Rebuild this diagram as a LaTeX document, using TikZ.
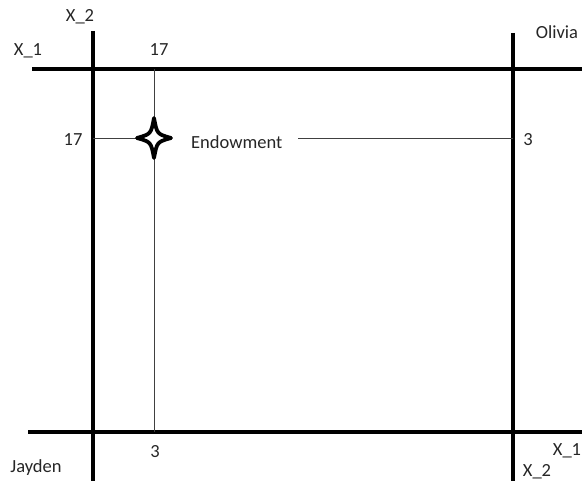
\documentclass[tikz,border=0pt]{standalone}
\usepackage{fontspec}
\setmainfont{Carlito}
\usetikzlibrary{positioning}

\begin{document}
\begin{tikzpicture}[
    x=1pt, y=-1pt,
    axis/.style={line width=3.6pt},
    guide/.style={line width=0.8pt, black!75},
    lbl/.style={font=\fontsize{18.5}{21}\selectfont, text=black!85, inner sep=2pt},
    endow/.style={line width=3.8pt, line join=round}
]
    \useasboundingbox (0,0) rectangle (582,481);
    % corners of the box
    \coordinate (jay) at (93,432);
    \coordinate (oli) at (513,69);
    \coordinate (topleft) at (93,69);
    \coordinate (botright) at (513,432);
    \coordinate (e) at (154,138);
    % axes
    \draw [axis] (93,31) -- (93,481);
    \draw [axis] (513,33) -- (513,481);
    \draw [axis] (32,69) -- (582,69);
    \draw [axis] (28,432) -- (582,432);
    % endowment point
    \node [lbl, anchor=west] (endowlbl) at (189,142) {Endowment};
    \draw [guide] (topleft -| e) -- (154,118);
    \draw [guide] (154,158) -- (jay -| e);
    \draw [guide] (93,138) -- (137,138);
    \draw [guide] (298,138) -- (oli |- e);
    \draw [endow] (154,118) .. controls (157,134) .. (171,138)
        .. controls (157,142) .. (154,158)
        .. controls (151,142) .. (137,138)
        .. controls (151,134) .. cycle;
    % labels
    \node [lbl] (x2a) at (80,17) {X\_2};
    \node [lbl] (x1a) at (28,51) {X\_1};
    \node [lbl] (seventeenA) at (159,50) {17};
    \node [lbl] (seventeenB) at (73,140) {17};
    \node [lbl] (threeA) at (528,140) {3};
    \node [lbl] (threeB) at (155,452) {3};
    \node [lbl] (olivia) at (557,32) {Olivia};
    \node [lbl] (jayden) at (36,468) {Jayden};
    \node [lbl] (x1b) at (567,451) {X\_1};
    \node [lbl] (x2b) at (537,472) {X\_2};
\end{tikzpicture}
\end{document}
